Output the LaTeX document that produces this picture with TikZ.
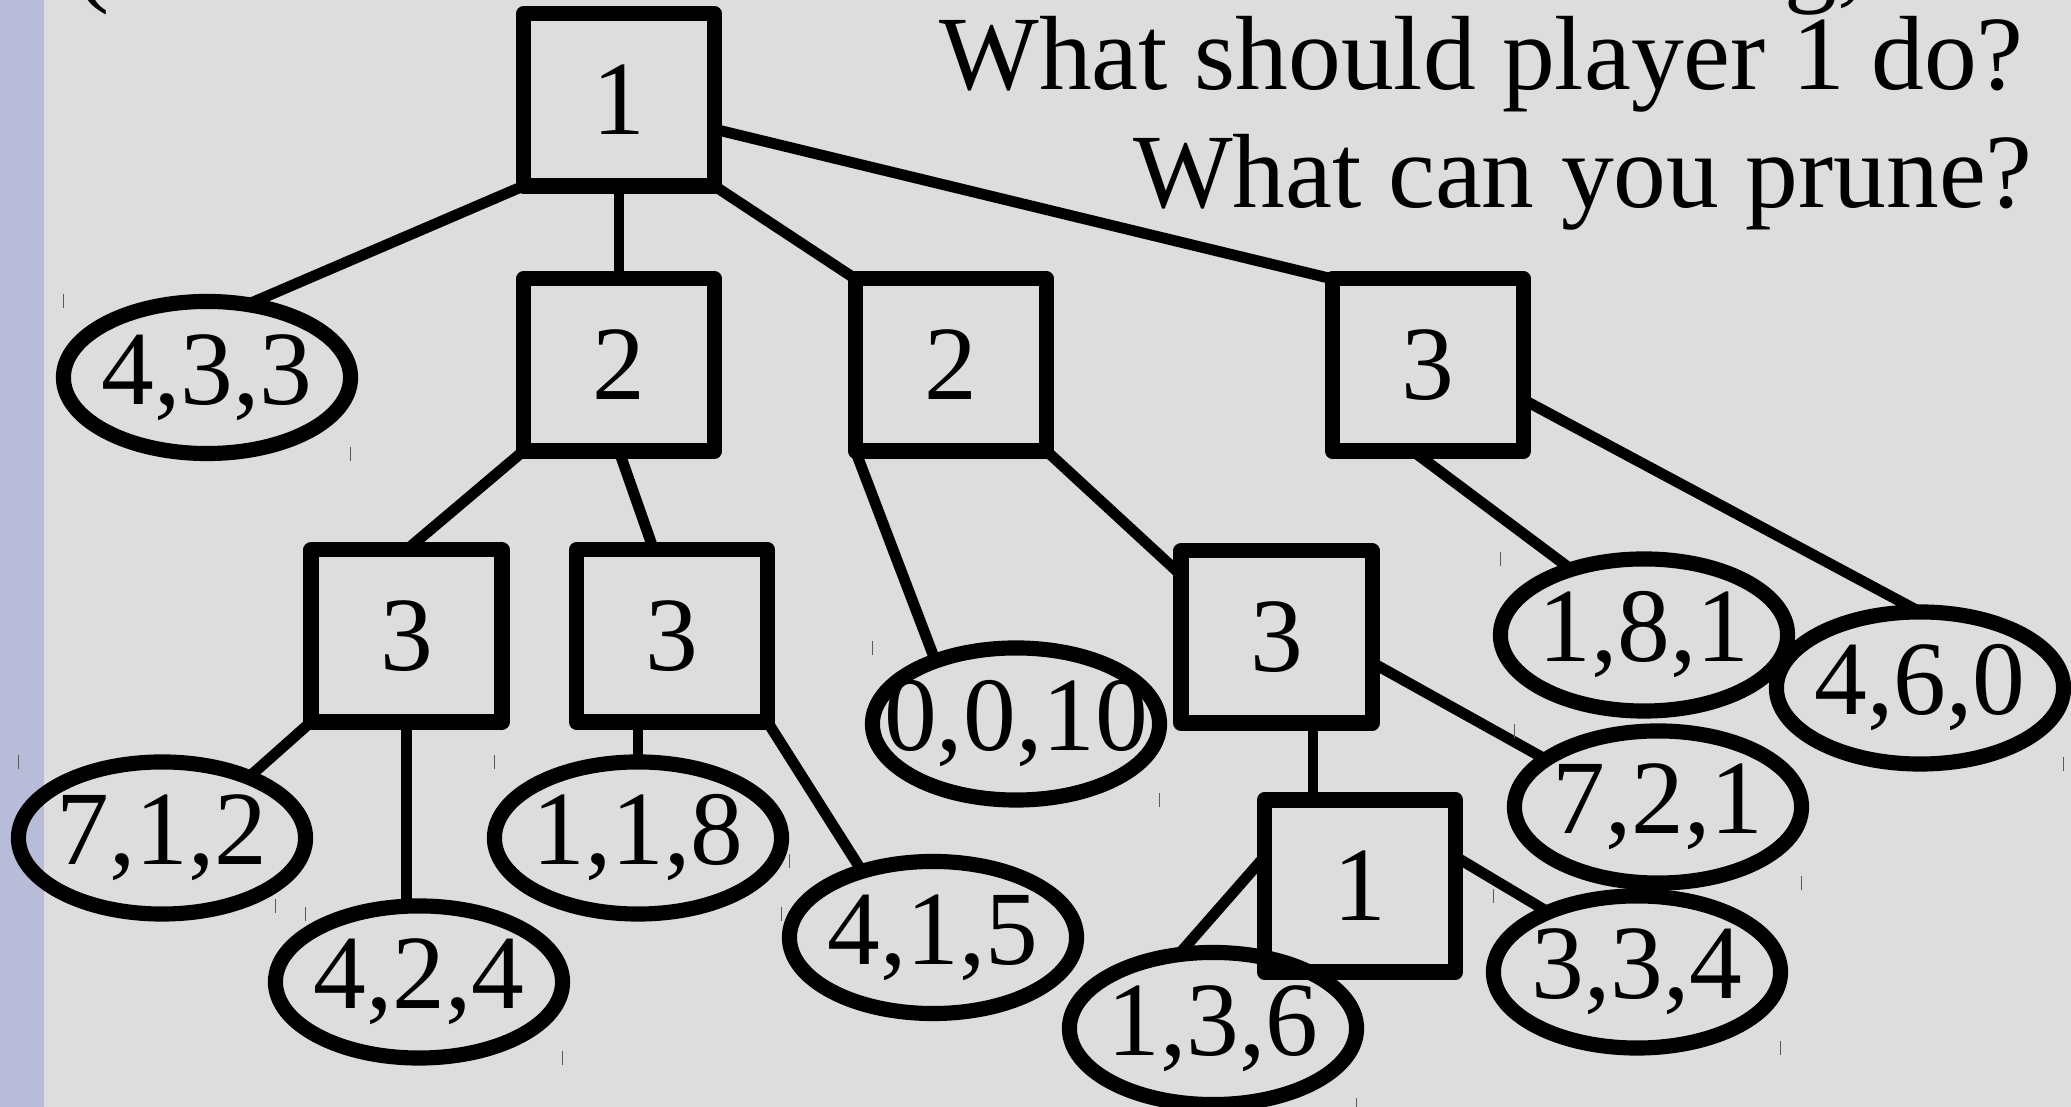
\documentclass[tikz,border=0pt]{standalone}
\usepackage{fontspec}
\setmainfont{Liberation Serif}
\usetikzlibrary{shapes.geometric,scopes}

\definecolor{slidegray}{RGB}{221,221,221}
\definecolor{slidebar}{RGB}{184,188,216}

\begin{document}
\begin{tikzpicture}[
    x=0.01cm, y=-0.01cm,
    every node/.style={font=\fontsize{30}{36}\selectfont},
    player/.style={rectangle,draw,line width=4.3pt,line join=round,minimum width=1.91cm,minimum height=1.72cm,inner sep=0pt,outer sep=0pt},
    payoff/.style={ellipse,draw,line width=4.3pt,minimum width=2.87cm,minimum height=1.52cm,inner xsep=-0.6cm,inner ysep=0pt,outer sep=0pt},
    branch/.style={line width=3.1pt},
    tick/.style={draw=black!65,line width=0.4pt},
]

% slide background
\fill[slidegray] (0,0) rectangle (2071,1107);
\fill[slidebar] (0,0) rectangle (44,1107);
\clip (0,0) rectangle (2071,1107);

% title line, cut off at the top
\node[anchor=base west] (t1) at (62,-7) {(};
\node[anchor=base west] (t2) at (1772,-7) {g,};

% questions
\node[anchor=base east] (q1) at (2036,90) {What should player 1 do?};
\node[anchor=base east] (q2) at (2045,208) {What can you prune?};

%%%
% players to move
\node[player] (p1)  at (619,100)    {1};
\node[player] (p2a) at (619,365)    {2};
\node[player] (p2b) at (951,365)    {2};
\node[player] (p3r) at (1428,365)   {3};
\node[player] (p3a) at (406.5,636)  {3};
\node[player] (p3b) at (672,636)    {3};
\node[player] (p3c) at (1276.5,637) {3};
\node[player] (p1b) at (1360,886)   {1};

%%%
% payoffs
\node[payoff] (l433)  at (207,377.5)  {4,3,3};
\node[payoff] (l712)  at (162,838)    {7,1,2};
\node[payoff] (l424)  at (419,982)    {4,2,4};
\node[payoff] (l118)  at (638,838)    {1,1,8};
\node[payoff] (l415)  at (933,937.5)  {4,1,5};
\node[payoff] (l0010) at (1016,724)   {0,0,10};
\node[payoff] (l181)  at (1644,635)   {1,8,1};
\node[payoff] (l460)  at (1920,688)   {4,6,0};
\node[payoff] (l721)  at (1658,807)   {7,2,1};
\node[payoff] (l136)  at (1213,1028.5) {1,3,6};
\node[payoff] (l334)  at (1637,972)   {3,3,4};

%%%
% branches
{[branch]
    \draw (p1.south west) -- (l433.61);
    \draw (p1.south) -- (p2a.north);
    \draw (p1.south east) -- (p2b.north west);
    \draw (p1.-17) -- (p3r.north west);
    \draw (p2a.south west) -- (p3a.north);
    \draw (p2a.south) -- (p3b.102);
    \draw (p2b.south west) -- (l0010.142);
    \draw (p2b.south east) -- (p3c.147);
    \draw (p3r.-100) -- (l181.138);
    \draw (p3r.-20) -- (l460.north);
    \draw (p3a.south west) -- (l712.35);
    \draw (p3a.south) -- (p3a.south |- l424.north);
    \draw (l118.north |- p3b.south) -- (l118.north);
    \draw (p3b.south east) -- (l415.137);
    \draw (p3c.-67) -- (p3c.-67 |- p1b.north);
    \draw (p3c.-15) -- (l721.157);
    \draw (p1b.163) -- (l136.115);
    \draw (p1b.17) -- (l334.146);
}

% frame marks left at the payoff corners
\foreach \l in {l433,l712,l424,l118,l415,l0010,l181,l721,l334}
    \draw[tick] (\l.west |- \l.north) ++(0,-7) -- ++(0,14);
\foreach \l in {l433,l712,l424,l118,l0010,l460,l721,l136,l334}
    \draw[tick] (\l.east |- \l.south) ++(0,-7) -- ++(0,14);
\end{tikzpicture}
\end{document}
